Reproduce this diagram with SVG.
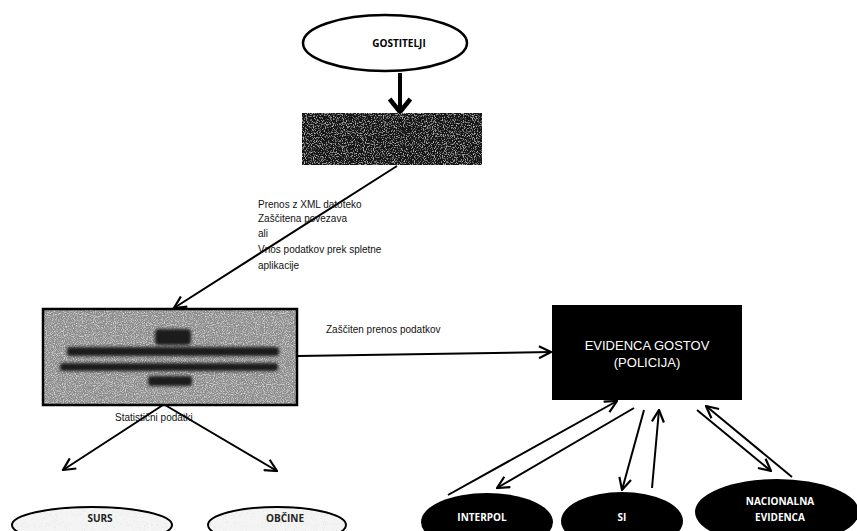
<svg xmlns="http://www.w3.org/2000/svg" width="857" height="531" viewBox="0 0 857 531">
<style>
.lbl{font-family:"Liberation Sans",Arial,sans-serif;font-size:10px;fill:#111}
.bold{font-family:"Open Sans","Liberation Sans",sans-serif;font-weight:bold;font-size:10px}
.conn{stroke:#000;stroke-width:2;fill:none;marker-end:url(#ah)}
.ev{font-family:"Liberation Sans",Arial,sans-serif;font-size:13px;fill:#fff}
</style>
<defs>
<marker id="ah" viewBox="0 0 14 14" refX="13" refY="7" markerWidth="14" markerHeight="14" markerUnits="userSpaceOnUse" orient="auto">
<polyline points="1,1 13,7 1,13" fill="none" stroke="#000" stroke-width="2.2"/>
</marker>
<marker id="ahBig" viewBox="0 0 20 20" refX="10" refY="18" markerWidth="26" markerHeight="26" markerUnits="userSpaceOnUse" orient="0">
<polyline points="2,8 10,18 18,8" fill="none" stroke="#000" stroke-width="3.5"/>
</marker>
<filter id="grainDark" x="0" y="0" width="100%" height="100%">
<feTurbulence type="fractalNoise" baseFrequency="0.9" numOctaves="2" seed="3" result="n"/>
<feColorMatrix in="n" type="matrix" values="0 0 0 0 0.75 0 0 0 0 0.75 0 0 0 0 0.75 0 0 0 2.4 -1.25" result="w"/>
<feComposite in="w" in2="SourceGraphic" operator="in" result="s"/>
<feMerge><feMergeNode in="SourceGraphic"/><feMergeNode in="s"/></feMerge>
</filter>
<filter id="grain" x="0" y="0" width="100%" height="100%">
<feTurbulence type="fractalNoise" baseFrequency="0.9" numOctaves="2" seed="5" result="n"/>
<feColorMatrix in="n" type="matrix" values="0 0 0 0 0.9 0 0 0 0 0.9 0 0 0 0 0.9 0 0 0 1.8 -0.8" result="w"/>
<feComposite in="w" in2="SourceGraphic" operator="in" result="s"/>
<feMerge><feMergeNode in="SourceGraphic"/><feMergeNode in="s"/></feMerge>
</filter>
<filter id="grainLight" x="0" y="0" width="100%" height="100%">
<feTurbulence type="fractalNoise" baseFrequency="0.9" numOctaves="2" seed="7" result="n"/>
<feColorMatrix in="n" type="matrix" values="0 0 0 0 0.5 0 0 0 0 0.5 0 0 0 0 0.5 0 0 0 1.5 -0.9" result="w"/>
<feComposite in="w" in2="SourceGraphic" operator="in" result="s"/>
<feMerge><feMergeNode in="SourceGraphic"/><feMergeNode in="s"/></feMerge>
</filter>
<filter id="soft"><feGaussianBlur stdDeviation="1.5"/></filter>
</defs>

<rect width="857" height="531" fill="#fff"/>

<g id="connectors">
<line x1="400" y1="73" x2="400" y2="112" stroke="#000" stroke-width="4" marker-end="url(#ahBig)"/>
<line class="conn" x1="397" y1="166" x2="174" y2="308"/>
<line class="conn" x1="298" y1="356" x2="551" y2="352"/>
<line class="conn" x1="163" y1="405" x2="63" y2="470"/>
<line class="conn" x1="165" y1="405" x2="277" y2="471"/>
<line class="conn" x1="448" y1="495" x2="617" y2="401"/>
<line class="conn" x1="634" y1="408" x2="497" y2="488"/>
<line class="conn" x1="644" y1="410" x2="622" y2="490"/>
<line class="conn" x1="652" y1="488" x2="659" y2="410"/>
<line class="conn" x1="697" y1="410" x2="771" y2="471"/>
<line class="conn" x1="792" y1="477" x2="706" y2="406"/>
<text class="lbl" x="258" y="208">Prenos z  XML datoteko</text>
<text class="lbl" x="258" y="222">Zaščitena povezava</text>
<text class="lbl" x="258" y="237">ali</text>
<text class="lbl" x="258" y="253">Vnos podatkov prek spletne</text>
<text class="lbl" x="258" y="269">aplikacije</text>
<text class="lbl" x="326" y="333">Zaščiten prenos podatkov</text>
<text class="lbl" x="115" y="421">Statistični podatki</text>
</g>

<g id="gostitelji">
<ellipse cx="385" cy="43" rx="82" ry="28" fill="#fff" stroke="#000" stroke-width="2.5"/>
<text class="bold" x="399" y="47" text-anchor="middle">GOSTITELJI</text>
</g>

<g id="top-box">
<rect x="302" y="113" width="180" height="52" fill="#151515" filter="url(#grainDark)"/>
</g>

<g id="left-box">
<rect x="43" y="309" width="254" height="96" fill="#8c8c8c" filter="url(#grain)"/>
<g fill="#1a1a1a" filter="url(#soft)">
<rect x="155" y="329" width="36" height="16" rx="4"/>
<rect x="67" y="347" width="212" height="9" rx="3"/>
<rect x="60" y="363" width="218" height="8" rx="3"/>
<rect x="148" y="376" width="44" height="10" rx="3"/>
</g>
<rect x="43" y="309" width="254" height="96" fill="none" stroke="#000" stroke-width="2.5"/>
</g>

<g id="evidenca">
<rect x="552" y="305" width="190" height="95" fill="#000"/>
<text class="ev" x="647" y="350" text-anchor="middle">EVIDENCA GOSTOV</text>
<text class="ev" x="647" y="367" text-anchor="middle">(POLICIJA)</text>
</g>

<g id="surs">
<ellipse cx="92" cy="525" rx="80" ry="18" fill="#f4f4f4" filter="url(#grainLight)"/>
<ellipse cx="92" cy="525" rx="80" ry="18" fill="none" stroke="#000" stroke-width="2"/>
<text class="bold" x="100" y="522" text-anchor="middle" fill="#222">SURS</text>
</g>

<g id="obcine">
<ellipse cx="277" cy="525" rx="69" ry="18" fill="#f4f4f4" filter="url(#grainLight)"/>
<ellipse cx="277" cy="525" rx="69" ry="18" fill="none" stroke="#000" stroke-width="2"/>
<text class="bold" x="285" y="522" text-anchor="middle" fill="#222">OBČINE</text>
</g>

<g id="interpol">
<ellipse cx="487" cy="522" rx="66" ry="29" fill="#000"/>
<text class="bold" x="482" y="521" text-anchor="middle" fill="#fff" font-weight="normal">INTERPOL</text>
</g>

<g id="si">
<ellipse cx="622" cy="521" rx="61" ry="29" fill="#000"/>
<text class="bold" x="622" y="521" text-anchor="middle" fill="#fff">SI</text>
</g>

<g id="nacionalna">
<ellipse cx="777" cy="512" rx="82" ry="33" fill="#000"/>
<text class="bold" x="780" y="505" text-anchor="middle" fill="#fff">NACIONALNA</text>
<text class="bold" x="780" y="521" text-anchor="middle" fill="#fff">EVIDENCA</text>
</g>
</svg>
